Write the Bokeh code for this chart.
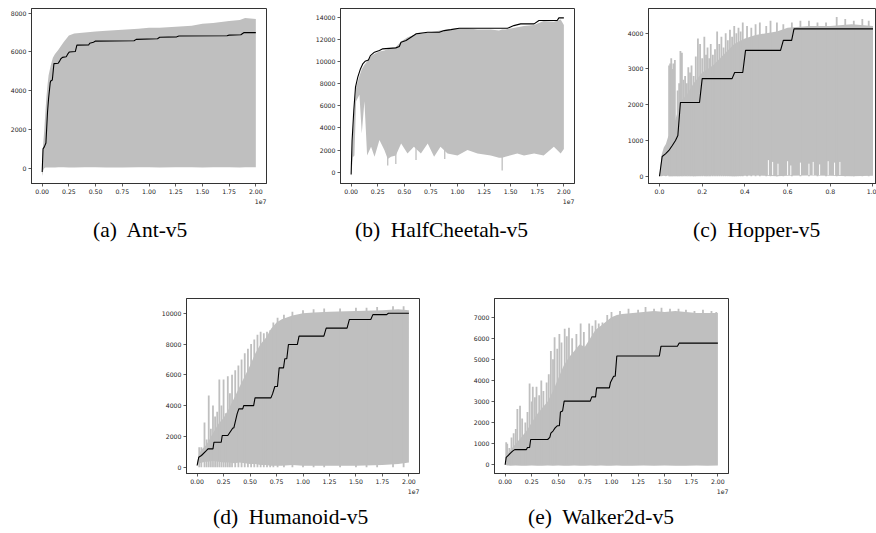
from bokeh.plotting import figure
from bokeh.layouts import row, column
from bokeh.models import Range1d, FixedTicker, Div, Spacer
from bokeh.embed import file_html
from bokeh.resources import INLINE

# ------------------------------------------------------------------ data
# x values are in units of 1e7 environment steps

# (a) Ant-v5
ant_x = [0.0, 0.005, 0.01, 0.02, 0.03, 0.04, 0.05, 0.06, 0.08, 0.1, 0.12, 0.15, 0.2, 0.25, 0.3, 0.4, 0.5, 0.6, 0.75, 0.9, 1.0, 1.1, 1.25, 1.4, 1.5, 1.6, 1.75, 1.85, 1.9, 2.0]
ant_hi = [-200, 900, 1300, 2000, 2900, 3700, 4300, 4800, 5300, 5700, 5900, 6100, 6500, 6850, 6950, 7000, 7050, 7100, 7150, 7200, 7250, 7250, 7300, 7350, 7450, 7500, 7600, 7650, 7750, 7700]
ant_lo = [-400, -300, -100, 0, 30, 30, 30, 30, 40, 40, 40, 50, 50, 40, 40, 50, 50, 40, 40, 50, 50, 40, 50, 50, 40, 50, 50, 40, 50, 50]
ant_best_x = [0.0, 0.008, 0.02, 0.035, 0.05, 0.06, 0.075, 0.08, 0.095, 0.11, 0.15, 0.16, 0.175, 0.19, 0.225, 0.24, 0.255, 0.31, 0.325, 0.435, 0.445, 0.48, 0.5, 0.86, 0.88, 1.08, 1.1, 1.26, 1.28, 1.73, 1.75, 1.86, 1.89, 2.0]
ant_best_y = [-200, 1000, 1100, 1300, 2900, 3600, 4400, 4500, 4550, 5400, 5420, 5500, 5650, 5720, 5750, 5900, 6000, 6020, 6350, 6360, 6450, 6500, 6560, 6580, 6650, 6680, 6760, 6780, 6820, 6840, 6870, 6890, 7000, 7000]

# (b) HalfCheetah-v5
hc_x = [0.0, 0.016, 0.031, 0.047, 0.078, 0.1, 0.125, 0.15, 0.1875, 0.22, 0.266, 0.3125, 0.344, 0.375, 0.42, 0.47, 0.53, 0.59, 0.656, 0.72, 0.78, 0.84, 0.906, 1.0, 1.094, 1.1875, 1.3125, 1.39, 1.42, 1.45, 1.5625, 1.625, 1.72, 1.81, 1.906, 1.97, 2.0]
hc_hi = [-100, 3500, 6000, 7700, 8700, 9300, 9700, 10000, 10500, 10700, 10900, 11000, 11100, 11200, 11300, 11800, 12200, 12400, 12500, 12600, 12700, 12800, 12900, 13000, 13000, 12900, 12900, 12800, 12900, 12900, 13100, 13200, 13300, 13650, 13600, 13800, 13300]
hc_lo = [-400, 1350, 1500, 6400, 7000, 3500, 6400, 1500, 2300, 1400, 2900, 2000, 1200, 1400, 1500, 2600, 1700, 2300, 1700, 2600, 1400, 2300, 1700, 1500, 2000, 1700, 1500, 1300, 1300, 1400, 1700, 1500, 1700, 1500, 2300, 1700, 2100]
hc_dip_x = [0.344, 0.42, 0.61, 0.88, 1.42]
hc_dip_lo = [600, 750, 1100, 1200, 150]
hc_dip_hi = [2500, 2500, 2500, 2500, 2500]
hc_best_x = [0.0, 0.009, 0.025, 0.041, 0.0625, 0.0875, 0.109, 0.131, 0.1625, 0.181, 0.219, 0.266, 0.297, 0.42, 0.453, 0.469, 0.516, 0.5625, 0.609, 0.72, 0.828, 0.875, 0.9375, 1.016, 1.47, 1.53, 1.594, 1.72, 1.766, 1.9375, 1.953, 2.0]
hc_best_y = [-200, 2860, 5570, 7680, 8580, 9330, 9780, 10020, 10140, 10530, 10840, 10990, 11140, 11230, 11350, 11740, 11890, 12190, 12490, 12640, 12640, 12790, 12880, 13000, 13000, 13240, 13400, 13400, 13700, 13700, 13940, 13940]

# (c) Hopper-v5
hop_x = [0.0, 0.01, 0.02, 0.03, 0.04, 0.06, 0.08, 0.1, 0.13, 0.16, 0.2, 0.25, 0.3, 0.35, 0.4, 0.45, 0.5, 0.55, 0.6, 0.7, 0.8, 0.9, 1.0]
hop_hi = [0, 600, 800, 900, 1100, 1300, 1700, 2100, 2300, 2600, 2900, 3100, 3400, 3700, 3850, 3950, 4000, 4050, 4150, 4200, 4200, 4250, 4200]
hop_lo = [0, 0, 10, 0, 20, 10, 0, 10, 20, 0, 10, 20, 10, 0, 10, 20, 10, 0, 10, 20, 10, 0, 10]
hop_spike_x = [0.045, 0.05, 0.055, 0.06, 0.065, 0.072, 0.085, 0.092, 0.098, 0.105, 0.112, 0.12, 0.128, 0.135, 0.143, 0.15, 0.16, 0.17, 0.18, 0.19, 0.2, 0.21, 0.218, 0.225, 0.233, 0.24, 0.25, 0.26, 0.27, 0.28, 0.29, 0.3, 0.31, 0.32, 0.33, 0.34, 0.35, 0.36, 0.37, 0.38, 0.39, 0.41, 0.43, 0.45, 0.47, 0.5, 0.52, 0.55, 0.58, 0.62, 0.66, 0.7, 0.74, 0.78, 0.83, 0.87, 0.91, 0.95, 0.98]
hop_spike_top = [3100, 3150, 3300, 3000, 3150, 3250, 2400, 2600, 3500, 3450, 2700, 2800, 2600, 3050, 2900, 3100, 2800, 3350, 3850, 3700, 3300, 3900, 3400, 3600, 3300, 3700, 3400, 3550, 4050, 3700, 3900, 3600, 4000, 3800, 4100, 3900, 4200, 4000, 4150, 4050, 4300, 4200, 4150, 4250, 4300, 4200, 4350, 4300, 4250, 4300, 4350, 4350, 4300, 4300, 4450, 4400, 4350, 4400, 4350]
hop_gap_x = [0.51, 0.53, 0.555, 0.6, 0.615, 0.66, 0.7, 0.72, 0.75, 0.79, 0.82, 0.845]
hop_gap_top = [450, 400, 350, 420, 300, 380, 350, 400, 330, 420, 380, 400]
hop_best_x = [0.0, 0.0125, 0.028, 0.044, 0.06, 0.075, 0.086, 0.098, 0.1875, 0.2, 0.34, 0.352, 0.39, 0.403, 0.567, 0.58, 0.619, 0.63, 1.0]
hop_best_y = [0, 550, 625, 720, 860, 1000, 1140, 2060, 2060, 2730, 2730, 2900, 2900, 3520, 3520, 3800, 3800, 4120, 4120]

# (d) Humanoid-v5
hum_x = [0.0, 0.02, 0.05, 0.08, 0.1, 0.15, 0.2, 0.25, 0.3, 0.35, 0.4, 0.45, 0.5, 0.55, 0.6, 0.65, 0.7, 0.75, 0.8, 0.9, 1.0, 1.1, 1.25, 1.5, 1.75, 1.9, 2.0]
hum_hi = [300, 900, 1200, 1400, 1600, 2200, 2800, 3200, 3800, 4500, 5200, 5900, 6600, 7400, 8000, 8400, 9000, 9400, 9600, 9850, 10000, 10050, 10100, 10150, 10200, 10250, 10200]
hum_lo = [100, 250, 300, 350, 350, 400, 350, 300, 300, 250, 300, 250, 200, 200, 150, 150, 100, 100, 100, 150, 100, 100, 100, 100, 150, 200, 300]
hum_spike_x = [0.02, 0.04, 0.07, 0.09, 0.11, 0.13, 0.15, 0.17, 0.19, 0.21, 0.23, 0.25, 0.27, 0.29, 0.31, 0.33, 0.36, 0.39, 0.42, 0.45, 0.48, 0.51, 0.54, 0.57, 0.6, 0.63, 0.66, 0.69, 0.72, 0.76, 0.82, 0.9, 1.0, 1.1, 1.2, 1.35, 1.5, 1.6, 1.7, 1.85, 1.95]
hum_spike_top = [1300, 1300, 2900, 1800, 4650, 2500, 4000, 3300, 3600, 5700, 4000, 5700, 3500, 5900, 4800, 6000, 6300, 6600, 7000, 7400, 7700, 8000, 8300, 8600, 8800, 8700, 8800, 8900, 9400, 9700, 9900, 10100, 10200, 10250, 10300, 10300, 10350, 10350, 10400, 10450, 10450]
hum_best_x = [0.0, 0.016, 0.041, 0.0875, 0.103, 0.15, 0.159, 0.228, 0.2375, 0.29, 0.3375, 0.347, 0.378, 0.394, 0.431, 0.44, 0.534, 0.547, 0.697, 0.7125, 0.734, 0.759, 0.775, 0.816, 0.828, 0.847, 0.8625, 0.947, 0.9625, 1.197, 1.219, 1.416, 1.4375, 1.64, 1.66, 1.79, 1.806, 2.0]
hum_best_y = [110, 650, 760, 1080, 1190, 1190, 1620, 1620, 2060, 2060, 2550, 2550, 3460, 3790, 3790, 4000, 4000, 4500, 4500, 4760, 5240, 5240, 6450, 6450, 7040, 7040, 7970, 7970, 8510, 8510, 9030, 9030, 9590, 9590, 9910, 9910, 10000, 10000]

# (e) Walker2d-v5
wal_x = [0.0, 0.02, 0.05, 0.1, 0.15, 0.2, 0.25, 0.3, 0.35, 0.4, 0.45, 0.5, 0.55, 0.6, 0.65, 0.7, 0.75, 0.8, 0.85, 0.9, 0.95, 1.0, 1.05, 1.1, 1.2, 1.3, 1.4, 1.5, 1.6, 1.7, 1.8, 1.9, 2.0]
wal_hi = [0, 500, 700, 1000, 1300, 1600, 2000, 2400, 2700, 3000, 3500, 4100, 4700, 5100, 5400, 5700, 5600, 6000, 6400, 6600, 6800, 7000, 7100, 7150, 7200, 7250, 7300, 7250, 7300, 7250, 7200, 7200, 7200]
wal_lo = [0, -30, -40, -30, -50, -40, -30, -40, -50, -30, -40, -30, -50, -40, -30, -40, -50, -30, -40, -30, -50, -40, -30, -40, -50, -30, -40, -30, -50, -40, -30, -40, -30]
wal_spike_x = [0.01, 0.02, 0.04, 0.06, 0.08, 0.1, 0.115, 0.14, 0.16, 0.19, 0.21, 0.23, 0.25, 0.26, 0.28, 0.295, 0.32, 0.34, 0.36, 0.39, 0.41, 0.43, 0.45, 0.465, 0.49, 0.51, 0.53, 0.56, 0.58, 0.6, 0.63, 0.67, 0.71, 0.74, 0.79, 0.82, 0.85, 0.88, 0.915, 0.96, 1.0, 1.08, 1.16, 1.25, 1.32, 1.4, 1.47, 1.55, 1.63, 1.7, 1.78, 1.86, 1.94, 1.985]
wal_spike_top = [1075, 1000, 800, 1300, 1500, 1700, 2650, 2800, 2200, 2000, 2500, 3850, 3000, 3700, 3200, 3700, 3300, 4000, 3500, 3900, 4300, 5400, 5000, 6050, 5500, 6200, 5800, 6450, 6100, 6500, 6000, 6200, 6700, 6300, 6700, 6600, 6850, 6700, 6750, 7100, 7250, 7300, 7400, 7350, 7480, 7400, 7450, 7400, 7400, 7350, 7300, 7350, 7300, 7250]
wal_best_x = [0.0, 0.01, 0.03, 0.05, 0.07, 0.09, 0.2, 0.21, 0.23, 0.24, 0.4, 0.42, 0.43, 0.45, 0.47, 0.49, 0.51, 0.52, 0.54, 0.555, 0.8, 0.815, 0.85, 0.86, 0.98, 0.99, 1.02, 1.035, 1.05, 1.45, 1.465, 1.62, 1.635, 2.0]
wal_best_y = [0, 350, 450, 550, 650, 720, 720, 820, 820, 1200, 1200, 1300, 1500, 1600, 1750, 1850, 1850, 2500, 2550, 3020, 3020, 3220, 3220, 3650, 3650, 3900, 4200, 4200, 5160, 5160, 5620, 5620, 5770, 5770]

# ticks and texts
x_ticks_long = [0.0, 0.25, 0.5, 0.75, 1.0, 1.25, 1.5, 1.75, 2.0]
x_labels_long = ["0.00", "0.25", "0.50", "0.75", "1.00", "1.25", "1.50", "1.75", "2.00"]
x_ticks_short = [0.0, 0.2, 0.4, 0.6, 0.8, 1.0]
x_labels_short = ["0.0", "0.2", "0.4", "0.6", "0.8", "1.0"]
y_ticks_ant = [0, 2000, 4000, 6000, 8000]
y_ticks_hc = [0, 2000, 4000, 6000, 8000, 10000, 12000, 14000]
y_ticks_hop = [0, 1000, 2000, 3000, 4000]
y_ticks_hum = [0, 2000, 4000, 6000, 8000, 10000]
y_ticks_wal = [0, 1000, 2000, 3000, 4000, 5000, 6000, 7000]
offset_text = "1e7"
captions = ["(a)  Ant-v5", "(b)  HalfCheetah-v5", "(c)  Hopper-v5",
            "(d)  Humanoid-v5", "(e)  Walker2d-v5"]

# ------------------------------------------------------------------ style
GREY = "#bfbfbf"
AX = "#333333"
TICK_FONT = "DejaVu Sans"
TICK_SIZE = "6.2px"
FRAME_H = 175
B_TOP = 8
B_BOT = 22
FIG_H = B_TOP + FRAME_H + B_BOT


def panel(xr, yr, xticks, xlabels, yticks, bl, fw, br, offset=True):
    kw = {}
    if offset:
        kw = dict(title=offset_text, title_location="below")
    p = figure(width=bl + fw + br, height=FIG_H,
               x_range=Range1d(*xr), y_range=Range1d(*yr),
               output_backend="svg", toolbar_location=None,
               min_border_left=bl, min_border_right=br,
               min_border_top=B_TOP, min_border_bottom=B_BOT, **kw)
    p.grid.visible = False
    p.outline_line_color = AX
    p.outline_line_width = 1
    p.background_fill_color = "white"
    p.border_fill_color = "white"
    p.xaxis.ticker = FixedTicker(ticks=xticks)
    p.xaxis.major_label_overrides = {t: s for t, s in zip(xticks, xlabels)}
    p.yaxis.ticker = FixedTicker(ticks=yticks)
    p.yaxis.major_label_overrides = {t: str(t) for t in yticks}
    for ax in (p.xaxis[0], p.yaxis[0]):
        ax.major_label_text_font = TICK_FONT
        ax.major_label_text_font_size = TICK_SIZE
        ax.major_label_text_color = "#222222"
        ax.axis_line_color = AX
        ax.axis_line_width = 1
        ax.major_tick_line_color = AX
        ax.major_tick_line_width = 0.8
        ax.major_tick_in = 0
        ax.major_tick_out = 3
        ax.minor_tick_line_color = None
        ax.major_label_standoff = 2
    if offset:
        p.title.align = "right"
        p.title.text_font = TICK_FONT
        p.title.text_font_size = TICK_SIZE
        p.title.text_font_style = "normal"
        p.title.text_color = "#222222"
        p.title.standoff = 0
        p.title.offset = 0
    return p


def band(p, x, lo, hi):
    p.varea(x=x, y1=lo, y2=hi, fill_color=GREY, fill_alpha=1.0)


def spikes(p, x, top, color=GREY, width=1.8):
    p.segment(x0=x, y0=[0] * len(x), x1=x, y1=top, line_color=color, line_width=width)


def best(p, x, y):
    p.line(x, y, line_color="black", line_width=1.1)


# (a)
pa = panel((-0.1, 2.1), (-790, 8243), x_ticks_long, x_labels_long, y_ticks_ant, 31, 235, 46)
band(pa, ant_x, ant_lo, ant_hi)
best(pa, ant_best_x, ant_best_y)

# (b)
pb = panel((-0.1, 2.1), (-1021, 14786), x_ticks_long, x_labels_long, y_ticks_hc, 27, 235, 48)
band(pb, hc_x, hc_lo, hc_hi)
pb.segment(x0=hc_dip_x, y0=hc_dip_lo, x1=hc_dip_x, y1=hc_dip_hi, line_color=GREY, line_width=1.3)
best(pb, hc_best_x, hc_best_y)

# (c)
pc = panel((-0.0515, 1.0164), (-204, 4691), x_ticks_short, x_labels_short, y_ticks_hop, 26, 228, 0, offset=False)
band(pc, hop_x, hop_lo, hop_hi)
spikes(pc, hop_spike_x, hop_spike_top)
pc.segment(x0=hop_gap_x, y0=[30] * len(hop_gap_x), x1=hop_gap_x, y1=hop_gap_top, line_color="white", line_width=1.0)
best(pc, hop_best_x, hop_best_y)

# (d)
pd_ = panel((-0.1, 2.1), (-409, 10955), x_ticks_long, x_labels_long, y_ticks_hum, 30, 233, 51)
band(pd_, hum_x, hum_lo, hum_hi)
spikes(pd_, hum_spike_x, hum_spike_top)
best(pd_, hum_best_x, hum_best_y)

# (e)
pe = panel((-0.1, 2.1), (-413, 7887), x_ticks_long, x_labels_long, y_ticks_wal, 24, 234, 6)
band(pe, wal_x, wal_lo, wal_hi)
spikes(pe, wal_spike_x, wal_spike_top)
best(pe, wal_best_x, wal_best_y)


def caption_div(items, height):
    spans = "".join(
        '<span style="position:absolute;left:%dpx;top:%dpx;white-space:pre;">%s</span>' % (x, y, t)
        for x, y, t in items)
    html = ('<div style="position:relative;width:876px;height:%dpx;'
            "font-family:'Liberation Serif',serif;font-size:21.5px;line-height:21.5px;color:#000;\">%s</div>"
            % (height, spans))
    return Div(text=html, width=876, height=height, margin=0, styles={"overflow": "visible"})


cap1 = caption_div([(93, 15, captions[0]), (355, 15, captions[1]), (693, 15, captions[2])], 85)
cap2 = caption_div([(213, 12, captions[3]), (528, 12, captions[4])], 37)

layout = column(row(pa, pb, pc), cap1,
                row(Spacer(width=156, height=FIG_H), pd_, pe), cap2)

open("out.html", "w").write(file_html(layout, INLINE))
